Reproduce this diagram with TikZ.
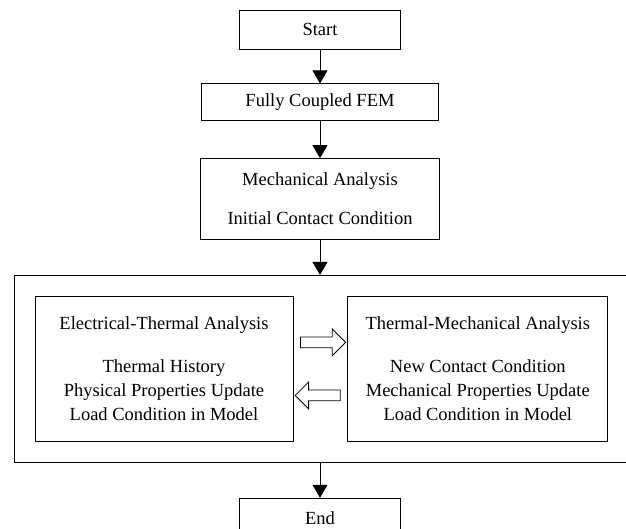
\documentclass[tikz,border=0pt]{standalone}
\usepackage{fontspec}
\setmainfont{Liberation Serif}
\usetikzlibrary{shapes.arrows,arrows.meta,positioning,calc}

\begin{document}
\begin{tikzpicture}[
    x=1pt, y=1pt,
    font=\fontsize{18.5}{24}\selectfont,
    node distance=35pt and 54pt,
    block/.style={rectangle, draw, line width=0.8pt, align=center, inner sep=0pt},
    frame/.style={rectangle, draw, line width=0.8pt, minimum width=620pt, minimum height=187pt},
    swap/.style={single arrow, draw, line width=0.8pt, minimum height=45pt, inner sep=5pt, single arrow head extend=8pt, single arrow head indent=0pt},
    arrow/.style={-{Triangle[length=13pt,width=15pt]}, line width=0.8pt}
]
    \useasboundingbox (-320,29.5) rectangle (306,-499.5);

    % Main flow
    \node[block, minimum width=161pt, minimum height=39pt] (start) {Start};
    \node[block, below=34pt of start, minimum width=237pt, minimum height=37pt] (fem) {Fully Coupled FEM};
    \node[block, below=37pt of fem, minimum width=239pt, minimum height=81pt] (mech) {Mechanical Analysis\\[15pt]Initial Contact Condition};
    \node[frame, below=35pt of mech, xshift=4pt] (outer) {};
    \node[block, below=35pt of outer, xshift=-4pt, minimum width=161pt, minimum height=39pt] (fin) {End};

    % Coupled analyses
    \node[block, below right=21pt and 21pt of outer.north west, minimum width=258pt, minimum height=145pt] (etd) {Electrical-Thermal Analysis\\[19pt]Thermal History\\Physical Properties Update\\Load Condition in Model};
    \node[block, right=54pt of etd, minimum width=260pt, minimum height=145pt] (tmd) {Thermal-Mechanical Analysis\\[19pt]New Contact Condition\\Mechanical Properties Update\\Load Condition in Model};
    \node[swap] (fwd) at ($(etd.east)!0.5!(tmd.west)+(0,26.5)$) {};
    \node[swap, shape border rotate=180] (back) at ($(etd.east)!0.5!(tmd.west)+(0,-26.5)$) {};

    % Connections
    \draw[arrow] (start) -- (fem);
    \draw[arrow] (fem) -- (mech);
    \draw[arrow] (mech.south) -- (mech.south |- outer.north);
    \draw[arrow] (outer.south -| fin.north) -- (fin.north);
\end{tikzpicture}
\end{document}
